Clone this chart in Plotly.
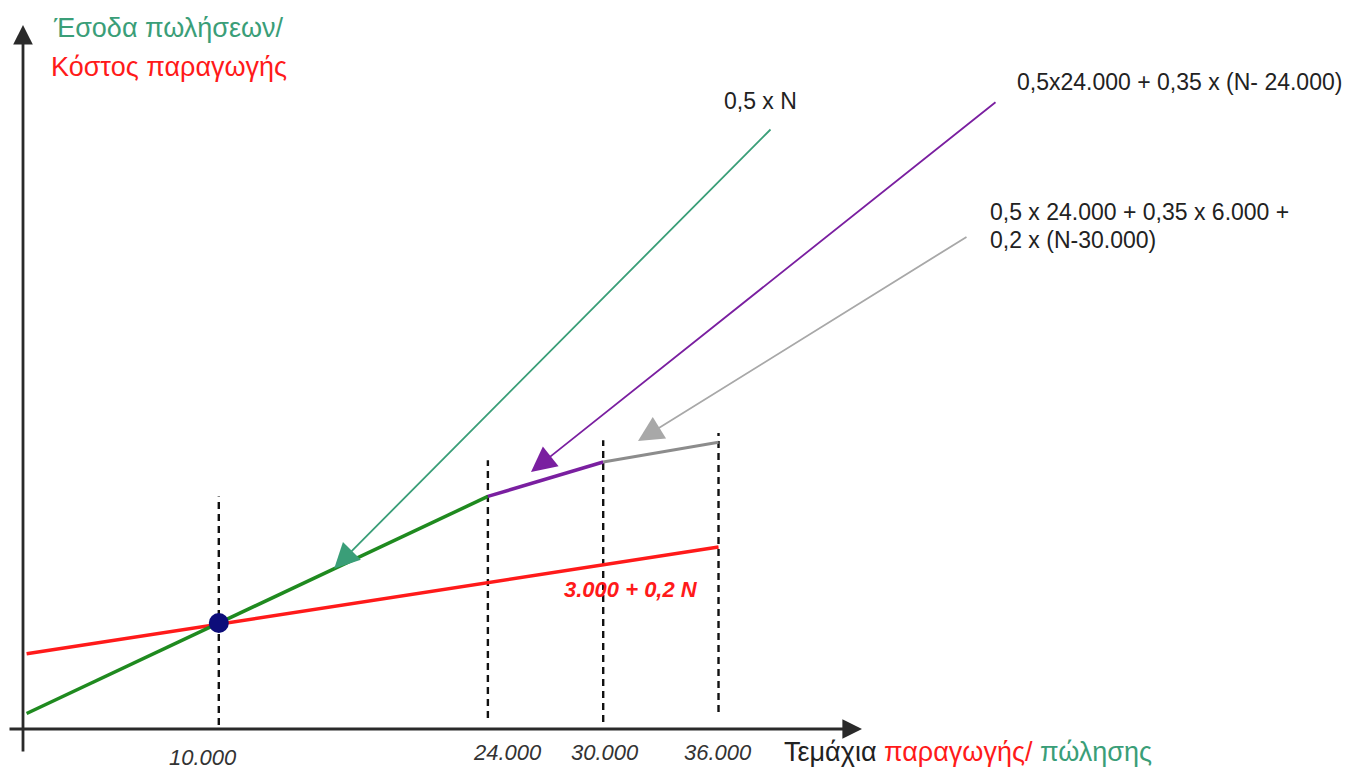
import plotly.graph_objects as go

# ---------------- data ----------------
breakpoints = [10000, 24000, 30000, 36000]
tick_labels = ["10.000", "24.000", "30.000", "36.000"]

revenue_n = [0, 24000]          # 0,5 x N
revenue_y = [0, 12000]
tier2_n = [24000, 30000]        # 0,5x24.000 + 0,35 x (N-24.000)
tier2_y = [12000, 13900]
tier3_n = [30000, 36000]        # ... + 0,2 x (N-30.000)
tier3_y = [13900, 15000]
cost_n = [0, 36000]             # 3.000 + 0,2 N
cost_y = [3300, 9200]
breakeven_n = [10000]
breakeven_y = [5000]
guide_top = [12000, 14000, 15100, 15500]
guide_bottom = [-640, -250, -470, 80]

# ---------------- geometry helpers ----------------
W, H = 1356, 771
X0_PX, X_PX_PER = 26.6, 19.22 / 1000.0   # pixel = X0 + N*per
Y0_PX, Y_PX_PER = 713.5, 18.09 / 1000.0  # pixel = Y0 - Y*per


def nx(px):
    return (px - X0_PX) / X_PX_PER


def ny(py):
    return (Y0_PX - py) / Y_PX_PER


def paper_x(px):
    return px / W


def paper_y(py):
    return 1 - py / H


GREEN = "#1f8a1f"
RED = "#ff1a1a"
PURPLE = "#7a1fa0"
GRAY = "#8c8c8c"
TEAL = "#3a9e78"
FONT = "Liberation Sans, Arial, sans-serif"

fig = go.Figure()

# dashed guide lines
for n, t, b in zip(breakpoints, guide_top, guide_bottom):
    fig.add_trace(go.Scatter(x=[n, n], y=[b, t], mode="lines",
                             line=dict(color="#111111", width=2.4, dash="7px,5px"),
                             hoverinfo="skip"))

fig.add_trace(go.Scatter(x=cost_n, y=cost_y, mode="lines",
                         line=dict(color=RED, width=3.5), hoverinfo="skip"))
fig.add_trace(go.Scatter(x=revenue_n, y=revenue_y, mode="lines",
                         line=dict(color=GREEN, width=3.5), hoverinfo="skip"))
fig.add_trace(go.Scatter(x=tier2_n, y=tier2_y, mode="lines",
                         line=dict(color=PURPLE, width=3.5), hoverinfo="skip"))
fig.add_trace(go.Scatter(x=tier3_n, y=tier3_y, mode="lines",
                         line=dict(color=GRAY, width=3), hoverinfo="skip"))
fig.add_trace(go.Scatter(x=breakeven_n, y=breakeven_y, mode="markers",
                         marker=dict(color="#0d0d7a", size=20), hoverinfo="skip"))

ann = []
# axes as arrows
ann.append(dict(x=nx(23), y=ny(25), ax=nx(23), ay=ny(753), xref="x", yref="y",
                axref="x", ayref="y", text="", showarrow=True, arrowhead=2,
                arrowsize=1.4, arrowwidth=2.8, arrowcolor="#2a2a2a", standoff=0))
ann.append(dict(x=nx(862), y=ny(729), ax=nx(8), ay=ny(729), xref="x", yref="y",
                axref="x", ayref="y", text="", showarrow=True, arrowhead=2,
                arrowsize=1.4, arrowwidth=2.8, arrowcolor="#2a2a2a", standoff=0))

# callout arrows
callouts = [
    ((772, 128), (16000, 8000), TEAL),
    ((997, 101), (nx(531), ny(472)), PURPLE),
    ((968, 236), (nx(638), ny(441)), "#a8a8a8"),
]
for (tx, ty), (hx, hy), col in callouts:
    ann.append(dict(x=hx, y=hy, ax=nx(tx), ay=ny(ty), xref="x", yref="y",
                    axref="x", ayref="y", text="", showarrow=True, arrowhead=2,
                    arrowsize=2.8, arrowwidth=1.8, arrowcolor=col, standoff=0))


def label(text, px, py, size=23, color="#222222", xanchor="left", **font_kw):
    ann.append(dict(x=paper_x(px), y=paper_y(py), xref="paper", yref="paper",
                    text=text, showarrow=False, xanchor=xanchor, yanchor="middle",
                    font=dict(family=FONT, size=size, color=color, **font_kw)))


label("0,5 x N", 722, 101)
label("0,5x24.000 + 0,35 x (N- 24.000)", 1015, 82)
label("0,5 x 24.000 + 0,35 x 6.000 +", 988, 212)
label("0,2 x (N-30.000)", 988, 240)
label("<b><i>3.000 + 0,2 N</i></b>", 562, 589, size=22, color=RED)

label("Έσοδα πωλήσεων/", 51, 28, size=27, color=TEAL)
label("Κόστος παραγωγής", 49, 67, size=27, color=RED)
label("Τεμάχια <span style='color:%s'>παραγωγής/</span>"
      "<span style='color:%s'> πώλησης</span>" % (RED, TEAL), 782, 752,
      size=27, color="#222222")

tick_px = [(203, 757), (507, 752), (605, 752), (718, 752)]
for lab, (tx, ty) in zip(tick_labels, tick_px):
    label("<i>%s</i>" % lab, tx, ty, size=22, color="#333333", xanchor="center")

fig.update_layout(
    width=W, height=H, autosize=False,
    margin=dict(l=0, r=0, t=0, b=0),
    paper_bgcolor="white", plot_bgcolor="white",
    showlegend=False, hovermode=False,
    xaxis=dict(range=[nx(0), nx(W)], visible=False, fixedrange=True),
    yaxis=dict(range=[ny(H), ny(0)], visible=False, fixedrange=True),
    annotations=ann,
)

fig.write_html("out.html", config={"displayModeBar": False},
               post_script="document.body.style.margin='0';")
